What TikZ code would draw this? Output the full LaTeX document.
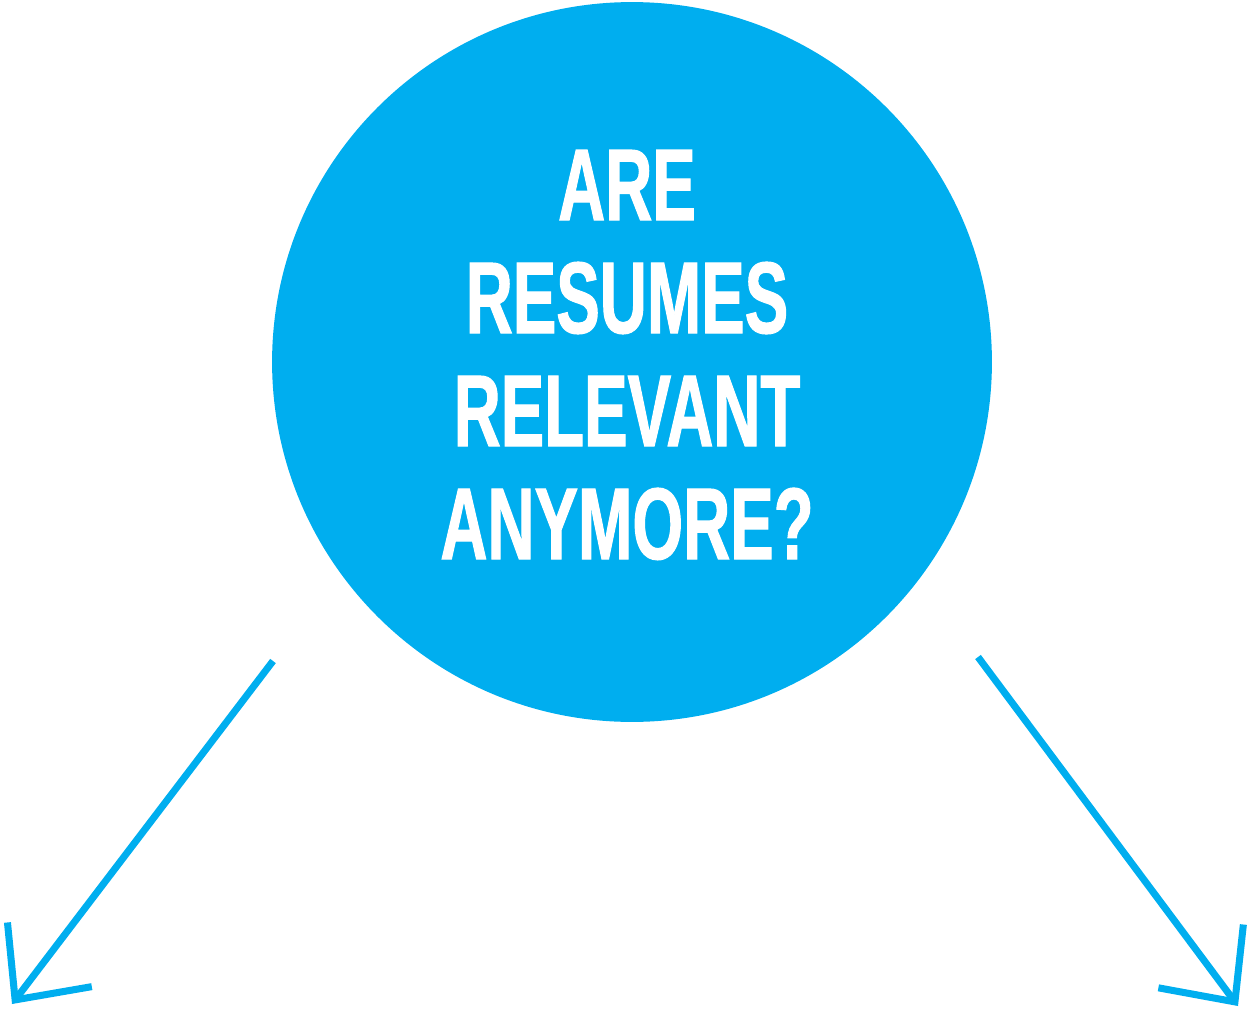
\documentclass[tikz,border=0pt]{standalone}
\usepackage{fontspec}
\newfontfamily\qfont[FakeStretch=0.64,FakeBold=1]{Liberation Sans}
\usepackage{tikz}
\usetikzlibrary{arrows.meta}
\tikzset{>={Straight Barb[length=11.4mm,width=21.2mm]}}
\definecolor{qblue}{RGB}{0,174,239}

\begin{document}
\begin{tikzpicture}[x=0.02cm,y=-0.02cm]
    \useasboundingbox (0,0) rectangle (1251,1014);
    \node[circle,fill=qblue,minimum size=14.4cm,inner sep=0pt] (q) at (632,362) {};
    \node[align=center,text=white,inner sep=0pt,font=\qfont\bfseries\fontsize{58}{64.3}\selectfont] (txt) at (627,355) {ARE\\RESUMES\\RELEVANT\\ANYMORE?};
    \coordinate (l0) at (273,661);
    \coordinate (l1) at (12,1004);
    \coordinate (r0) at (978,657);
    \coordinate (r1) at (1238,1006);
    \foreach \a/\b in {l0/l1,r0/r1} {
      \draw[->,qblue,line width=4pt] (\a) -- (\b);
    }
\end{tikzpicture}
\end{document}
